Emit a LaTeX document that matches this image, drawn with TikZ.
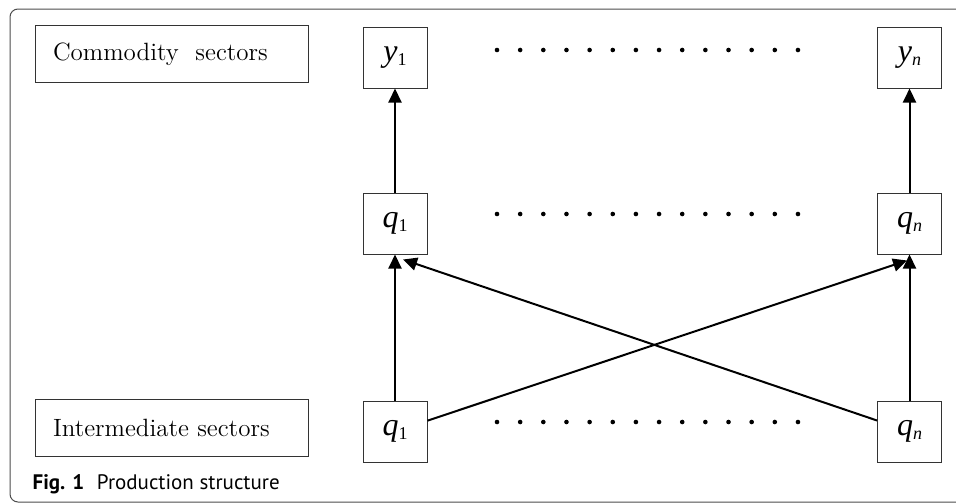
\documentclass[tikz,border=0pt]{standalone}
\usepackage{fontspec}
\newfontfamily\labfont{Liberation Serif}
\newfontfamily\capfont{PT Sans}
\usepackage{tikz}
\usetikzlibrary{arrows.meta,positioning}

\newcommand{\lab}[2]{{\labfont\itshape\fontsize{16}{16}\selectfont #1}\raisebox{-2pt}{\labfont\fontsize{9}{9}\selectfont #2}}

\begin{document}
\begin{tikzpicture}[x=0.5pt,y=-0.5pt,>={Triangle[length=7pt,width=6.5pt]},
line width=1pt]
\tikzstyle{sector}=[draw=black!80,line width=0.5pt,minimum width=32pt,minimum height=30.5pt,inner sep=0pt]
\tikzstyle{group}=[draw=black!80,line width=0.5pt,minimum height=28.5pt,text width=118.5pt,inner xsep=9pt,align=left,font=\fontsize{12.5}{14}\selectfont]
\useasboundingbox (0,0) rectangle (956,503);
\clip (0,0) rectangle (956,503);
\draw[black!70,line width=0.5pt,rounded corners=4pt] (10,9) rectangle (980,502);
\node[group] (com) at (171.5,54) {Commodity\ \ sectors};
\node[group] (int) at (171.5,427.5) {Intermediate sectors};
\node[sector] (y1) at (395,57.5) {\lab{y}{1}};
\node[sector] (yn)  [node distance=257.25pt,right of=y1] {\lab{y}{\textit{n}}};
\node[sector] (q1m) [node distance=83pt,below of=y1] {\lab{q}{1}};
\node[sector] (qnm) [node distance=83pt,below of=yn] {\lab{q}{\textit{n}}};
\node[sector] (q1b) [node distance=104pt,below of=q1m] {\lab{q}{1}};
\node[sector] (qnb) [node distance=104pt,below of=qnm] {\lab{q}{\textit{n}}};
\foreach \row in {50,214,422}
  \foreach \i in {0,...,13}
    \fill (497+23.15*\i,\row) circle (1.15pt);
\path[->] (q1m) edge (y1)
          (qnm) edge (yn)
          (q1b) edge (q1m)
                edge ([xshift=-1.25pt,yshift=-3pt]qnm.south)
          (qnb) edge (qnm)
                edge ([xshift=4pt,yshift=-2.5pt]q1m.south);
\node[anchor=base west,font=\capfont\fontsize{10.5}{12}\selectfont] (cap) at (25,489)
  {\textbf{Fig. 1}\hspace{0.6em}Production structure};
\end{tikzpicture}
\end{document}
